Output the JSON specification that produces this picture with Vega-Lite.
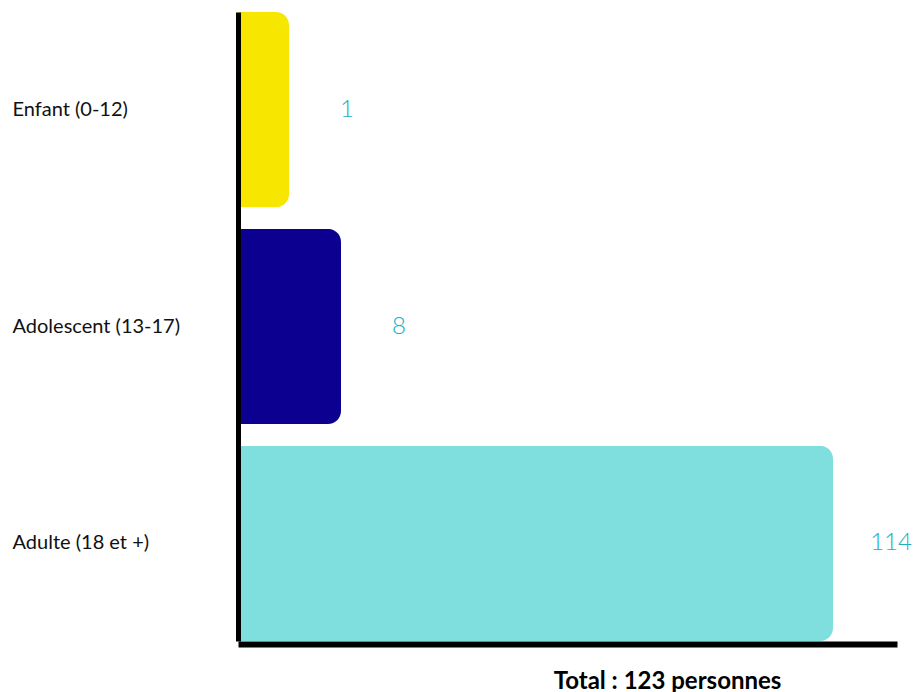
{
  "$schema": "https://vega.github.io/schema/vega-lite/v6.json",
  "autosize": {"type": "none"},
  "padding": {"left": 238, "top": 12, "right": 17, "bottom": 51},
  "width": 659,
  "height": 629,
  "background": "white",
  "config": {"view": {"stroke": null}, "font": "Lato"},
  "data": {
    "values": [
      {"categorie": "Enfant (0-12)", "nombre": 1},
      {"categorie": "Adolescent (13-17)", "nombre": 8},
      {"categorie": "Adulte (18 et +)", "nombre": 114}
    ]
  },
  "encoding": {
    "y": {
      "field": "categorie",
      "type": "nominal",
      "sort": null,
      "scale": {"paddingInner": 0.1, "paddingOuter": 0},
      "axis": {
        "title": null,
        "ticks": false,
        "zindex": 1,
        "labelAlign": "left",
        "labelPadding": 226,
        "labelFontSize": 20,
        "labelColor": "#111111",
        "labelFont": "Lato",
        "domainColor": "#000000",
        "domainWidth": 5
      }
    },
    "x": {
      "field": "nombre",
      "type": "quantitative",
      "scale": {"domain": [0, 1, 8, 114, 126], "range": [0, 51, 103, 595, 659], "clamp": true},
      "axis": {
        "title": "Total : 123 personnes",
        "titleFont": "Lato",
        "titleFontSize": 24,
        "titleFontWeight": "bold",
        "titleColor": "#000000",
        "titleAnchor": "start",
        "titleAlign": "center",
        "titleBaseline": "alphabetic",
        "titleX": 429,
        "titleY": 44,
        "labels": false,
        "ticks": false,
        "grid": false,
        "zindex": 1,
        "domainColor": "#000000",
        "domainWidth": 6,
        "offset": 3
      }
    }
  },
  "layer": [
    {
      "mark": {"type": "bar", "cornerRadiusEnd": 13},
      "encoding": {
        "color": {
          "field": "categorie",
          "type": "nominal",
          "scale": {
            "domain": ["Enfant (0-12)", "Adolescent (13-17)", "Adulte (18 et +)"],
            "range": ["#f7e600", "#0c0091", "#7fdede"]
          },
          "legend": null
        }
      }
    },
    {
      "mark": {"type": "text", "align": "center", "dx": 58, "fontSize": 24, "fontWeight": 300, "font": "Lato", "color": "#22aec2"},
      "encoding": {
        "text": {"field": "nombre", "type": "quantitative"}
      }
    }
  ]
}
